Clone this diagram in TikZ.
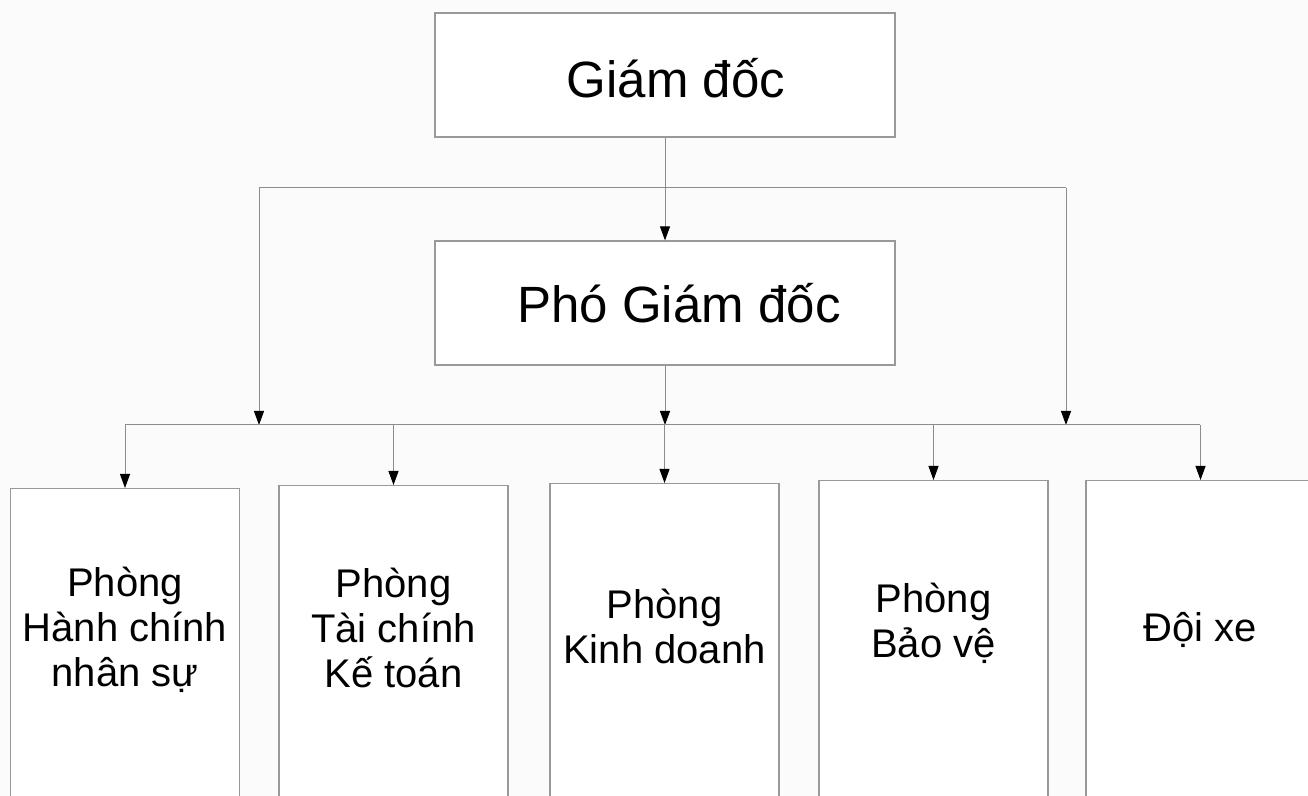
\documentclass[tikz,border=0pt]{standalone}
\usepackage{fontspec}
\setmainfont{Liberation Sans}
\usetikzlibrary{arrows.meta}

\begin{document}
\begin{tikzpicture}[x=0.5pt,y=-0.5pt,
  box/.style={draw=black!40,line width=0.6pt,fill=white,inner sep=0pt},
  bigbox/.style={box,minimum width=230pt,minimum height=62pt,font=\fontsize{25.5}{30}\selectfont},
  deptbox/.style={box,anchor=north,minimum width=114.5pt,minimum height=200pt},
  depttext/.style={align=center,font=\fontsize{20}{22.5}\selectfont},
  wire/.style={draw=black!45,line width=0.5pt},
  conn/.style={wire,-{Triangle[length=7pt,width=5pt,black]}}]
\fill[white!98.5!black] (0,0) rectangle (1308,796);
\clip (0,0) rectangle (1308,796);
% top
\node[bigbox] (gd) at (665,75) {\hspace*{11pt}\raisebox{-1.5pt}[\height][\depth]{Giám đốc}};
\node[bigbox] (pgd) at (665,303) {\hspace*{14pt}Phó Giám đốc};
% departments
\node[deptbox] (hcns) at (125,488) {};
\node[deptbox] (tckt) at (393.5,485) {};
\node[deptbox] (kd) at (664.5,483) {};
\node[deptbox] (bv) at (933.5,480) {};
\node[deptbox] (dx) at (1200.5,480) {};
\node[depttext] (hcnst) at (125,630) {Phòng\\Hành chính\\nhân sự};
\node[depttext] (tcktt) at (393.5,628) {Phòng\\Tài chính\\Kế toán};
\node[depttext] (kdt) at (664.5,626) {Phòng\\Kinh doanh};
\node[depttext] (bvt) at (933.5,623) {Phòng\\Bảo vệ};
\node[depttext] (dxt) at (1200.5,630) {Đội xe};
% connectors
\coordinate (topL) at (259,188);
\coordinate (topR) at (1066,188);
\coordinate (busL) at (125,425);
\coordinate (busR) at (1200,425);
\draw[conn] (gd) -- (pgd);
\draw[wire] (topL) -- (topR);
\draw[conn] (topL) -- (topL |- busL);
\draw[conn] (topR) -- (topR |- busR);
\draw[conn] (pgd) -- (pgd |- busL);
\draw[wire] (busL) -- (busR);
\foreach \d in {hcns,tckt,kd,bv,dx}
  \draw[conn] (\d.north |- busL) -- (\d.north);
\end{tikzpicture}
\end{document}
